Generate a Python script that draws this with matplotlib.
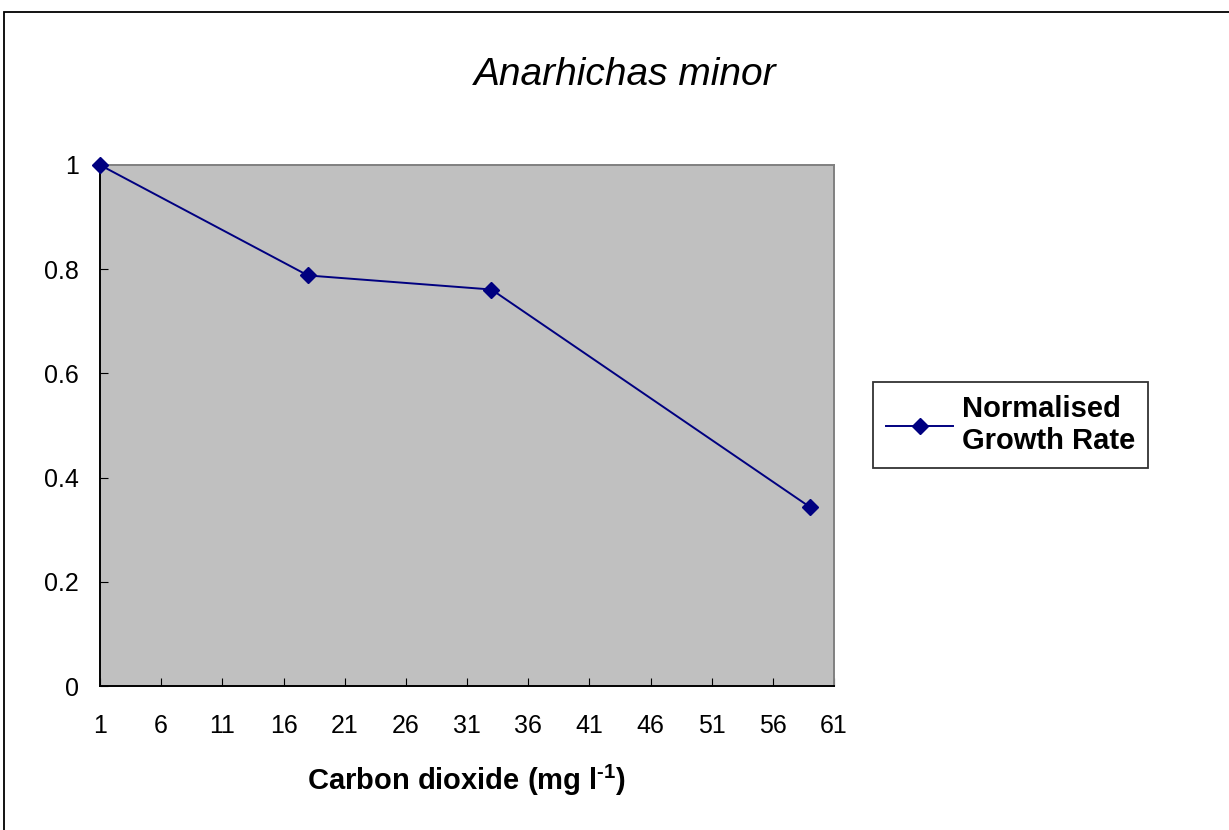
import matplotlib
matplotlib.use("Agg")
import matplotlib.pyplot as plt
from matplotlib.patches import Rectangle

plt.rcParams["font.family"] = ["Liberation Sans", "DejaVu Sans"]
plt.rcParams["mathtext.fontset"] = "custom"
plt.rcParams["mathtext.rm"] = "Liberation Sans:bold"
plt.rcParams["mathtext.bf"] = "Liberation Sans:bold"

# ── Datos ────────────────────────────────────────────────────────────────
co2 = [1, 18, 33, 59]
growth = [1.0, 0.788, 0.761, 0.344]
xticks = list(range(1, 62, 5))
yticks = [0, 0.2, 0.4, 0.6, 0.8, 1]

W, H = 1229, 830
fig = plt.figure(figsize=(W / 100, H / 100), dpi=100)
ax = fig.add_axes([100 / W, 1 - 686 / H, (834 - 100) / W, (686 - 165) / H])
ax.set_facecolor("#c0c0c0")

ax.plot(co2, growth, color="#000080", linewidth=1.4, marker="D",
        markersize=8, label="Normalised\nGrowth Rate", clip_on=False, zorder=5)

ax.set_xlim(1, 61)
ax.set_ylim(0, 1)
ax.set_xticks(xticks)
ax.set_yticks(yticks)
ax.set_yticklabels(["0", "0.2", "0.4", "0.6", "0.8", "1"])
ax.tick_params(axis="x", direction="in", length=6, labelsize=18, pad=20)
ax.tick_params(axis="y", direction="in", length=6, labelsize=18, pad=15)

for s in ("left", "bottom"):
    ax.spines[s].set_color("black")
    ax.spines[s].set_linewidth(1.4)
for s in ("top", "right"):
    ax.spines[s].set_color("#808080")
    ax.spines[s].set_linewidth(1.4)

ax.set_xlabel(r"Carbon dioxide (mg l$^{\text{-1}}$)", fontsize=21,
              fontweight="bold", labelpad=18)
fig.text(625 / W, 1 - 75 / H, "Anarhichas minor", fontsize=28,
         style="italic", ha="center", va="center")

leg = ax.legend(loc="center left", bbox_to_anchor=(873 / W, 1 - 425 / H),
                bbox_transform=fig.transFigure, frameon=True, fancybox=False,
                prop={"weight": "bold", "size": 21}, handlelength=2.3,
                borderpad=0.45, handletextpad=0.3, borderaxespad=0)
leg.get_frame().set_edgecolor("black")
leg.get_frame().set_linewidth(1.3)
for t in leg.get_texts():
    t.set_ha("left")

# Marco de la figura
fig.patches.append(Rectangle((4 / W, -0.1), 1.2, 1.1 - 12 / H,
                             transform=fig.transFigure, fill=False,
                             edgecolor="black", linewidth=1.3))

fig.savefig("out.png", dpi=100)
